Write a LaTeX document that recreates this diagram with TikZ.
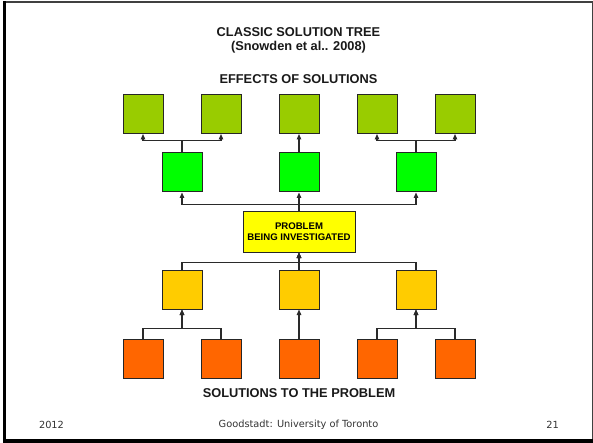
\documentclass[tikz,border=0pt]{standalone}
\usepackage{fontspec}
\setmainfont{Liberation Sans}
\newfontfamily\footfont{DejaVu Sans}
\usetikzlibrary{arrows.meta}
\definecolor{effectgreen}{HTML}{99CC00}
\definecolor{brightgreen}{HTML}{00FF00}
\definecolor{problemyellow}{HTML}{FFFF00}
\definecolor{causegold}{HTML}{FFCC00}
\definecolor{solorange}{HTML}{FF6600}
\definecolor{edgegray}{HTML}{2A2A2A}
\tikzset{
  sq/.style={draw=black!85, line width=1pt, minimum width=40pt, minimum height=39pt, inner sep=0pt},
  effect/.style={sq, fill=effectgreen},
  direct/.style={sq, fill=brightgreen},
  cause/.style={sq, fill=causegold},
  solution/.style={sq, fill=solorange},
  problembox/.style={draw=black!85, line width=1pt, fill=problemyellow, minimum width=112pt, minimum height=40pt, align=center, inner sep=1pt, font=\bfseries\fontsize{9.6}{11}\selectfont},
  link/.style={draw=edgegray, line width=1.1pt},
  arr/.style={link, -{Triangle[length=5.5pt,width=4.5pt]}},
  heading/.style={font=\bfseries\fontsize{12.8}{15}\selectfont, text=black!90, inner sep=0pt},
  foot/.style={font=\footfont\fontsize{9.8}{12}\selectfont, text=black!80, inner sep=0pt}
}
\begin{document}
\begin{tikzpicture}[x=1pt, y=-1pt]
\useasboundingbox (0,0) rectangle (593,443);
\fill[white] (0,0) rectangle (593,443);
% slide frame
\draw[black!75, line width=1.2pt] (4,2) -- (592.3,2) -- (592.3,441);
\draw[black, line width=3.2pt] (4.7,1.5) -- (4.7,441) -- (593,441);

% headings
\node[heading] (title) at (298.5,31.7) {CLASSIC SOLUTION TREE};
\node[heading] (cite) at (298.5,46.7) {(Snowden et al.. 2008)};
\node[heading] (effects) at (298.5,79) {EFFECTS OF SOLUTIONS};
\node[heading] (solutions) at (299,393) {SOLUTIONS TO THE PROBLEM};

% top row: effects
\node[effect] (e1) at (143,114) {};
\node[effect] (e2) at (221,114) {};
\node[effect] (e3) at (299,114) {};
\node[effect] (e4) at (377,114) {};
\node[effect] (e5) at (455,114) {};

% direct effects
\node[direct] (d1) at (182,172.5) {};
\node[direct] (d2) at (299,172.5) {};
\node[direct] (d3) at (416,172.5) {};

% problem
\node[problembox] (p) at (299,232) {PROBLEM\\BEING INVESTIGATED};

% causes
\node[cause] (c1) at (182,289.5) {};
\node[cause] (c2) at (299,289.5) {};
\node[cause] (c3) at (416,289.5) {};

% solutions
\node[solution] (s1) at (143,358.5) {};
\node[solution] (s2) at (221,358.5) {};
\node[solution] (s3) at (299,358.5) {};
\node[solution] (s4) at (377,358.5) {};
\node[solution] (s5) at (455,358.5) {};

% problem -> direct effects
\draw[arr] (p.north) -- ++(0,-7) -| (d1.south);
\draw[arr] (p.north) -- (d2.south);
\draw[arr] (p.north) -- ++(0,-7) -| (d3.south);

% direct effects -> effects
\draw[arr] (d1.north) -- ++(0,-12) -| (e1.south);
\draw[arr] (d1.north) -- ++(0,-12) -| (e2.south);
\draw[arr] (d2.north) -- (e3.south);
\draw[arr] (d3.north) -- ++(0,-12) -| (e4.south);
\draw[arr] (d3.north) -- ++(0,-12) -| (e5.south);

% causes -> problem
\draw[arr] (c1.north) -- ++(0,-7) -| (p.south);
\draw[arr] (c2.north) -- (p.south);
\draw[arr] (c3.north) -- ++(0,-7) -| (p.south);

% solutions -> causes
\draw[arr] (s1.north) -- ++(0,-10) -| (c1.south);
\draw[arr] (s2.north) -- ++(0,-10) -| (c1.south);
\draw[arr] (s3.north) -- (c2.south);
\draw[arr] (s4.north) -- ++(0,-10) -| (c3.south);
\draw[arr] (s5.north) -- ++(0,-10) -| (c3.south);

% footer
\node[foot] (year) at (51.5,424.5) {2012};
\node[foot] (source) at (298.5,424.5) {Goodstadt: University of Toronto};
\node[foot] (page) at (552.5,424.5) {21};
\end{tikzpicture}
\end{document}
